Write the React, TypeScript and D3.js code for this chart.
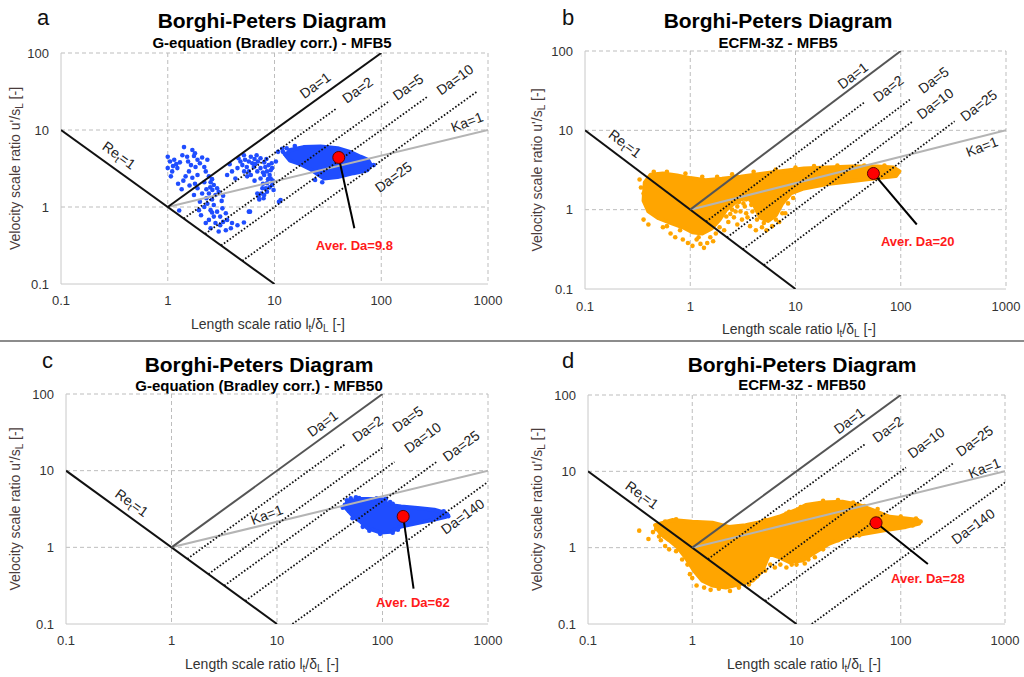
import React from 'react';
import * as d3 from 'd3';

type P = [number, number];

const xTicks = [0.1, 1, 10, 100, 1000];
const yTicks = [0.1, 1, 10, 100];
const xTickText = ['0.1', '1', '10', '100', '1000'];
const yTickText = ['0.1', '1', '10', '100'];

const reLine: P[] = [[0.1, 10], [10, 0.1]];
const da1Line: P[] = [[1, 1], [100, 100]];
const kaLine: P[] = [[1, 1], [1000, 10]];

// panel a - G-equation MFB5
const aDa = [2, 5, 10, 25];
const aDaEnd = [38, 120, 275, 800];
const aCore: P[] = [[12.7, 4.7], [14, 5.5], [18.7, 6.0], [27, 6.1], [39, 5.8], [51, 5.2], [64, 4.5], [75, 4.1], [80, 3.5], [74, 3.0], [55, 2.75], [39, 2.45], [29, 2.35], [26, 2.6], [21.7, 3.1], [17.5, 3.6], [14, 4.0]];
const aDots: P[] = [
  [1.0, 4.5], [1.05, 3.9], [1.15, 4.1], [1.2, 3.6], [1.0, 3.2], [1.1, 2.9], [1.07, 2.5], [1.23, 3.2], [1.42, 6.0], [1.37, 4.7],
  [1.52, 4.5], [1.7, 5.5], [1.76, 4.6], [1.9, 4.1], [1.65, 3.5], [1.82, 3.3], [2.0, 3.7], [2.2, 3.3], [1.58, 2.9], [1.47, 2.5],
  [1.7, 2.4], [1.9, 2.6], [2.35, 4.1], [2.27, 2.9], [2.43, 2.5], [2.52, 2.1], [2.7, 1.93], [2.62, 1.66], [2.9, 1.75], [2.43, 1.5],
  [2.8, 1.43], [3.0, 1.58], [1.76, 1.43], [1.9, 1.75], [2.0, 1.17], [2.2, 1.0], [1.96, 0.91], [2.35, 1.1], [2.52, 0.91], [2.7, 1.06],
  [2.9, 0.87], [3.25, 0.96], [3.5, 0.83], [3.1, 0.75], [2.7, 0.75], [2.43, 0.68], [2.27, 0.62], [2.8, 0.62], [3.1, 0.58], [3.6, 0.68],
  [4.0, 0.62], [4.5, 0.58], [5.17, 0.63], [5.75, 0.87], [3.5, 0.5], [3.9, 0.53], [3.0, 0.48], [2.52, 0.53], [4.6, 4.3], [5.17, 4.7],
  [5.75, 3.9], [5.0, 3.5], [6.4, 3.3], [6.9, 2.9], [7.4, 3.2], [8.0, 2.6], [8.5, 2.9], [9.2, 2.35], [7.4, 2.35], [8.5, 2.03],
  [9.5, 1.93], [9.8, 1.66], [8.5, 1.58], [8.0, 1.43], [7.1, 1.36], [6.9, 1.5], [7.7, 1.75], [4.0, 2.9], [4.3, 2.35], [5.55, 2.5],
  [6.2, 3.7], [10.3, 3.9], [7.4, 4.3], [5.75, 2.9], [9.5, 3.2], [11, 1.17], [5.9, 0.87], [11.4, 1.23], [12, 5.2], [13, 5.8],
  [12.5, 4.9], [8.8, 3.5], [9.2, 3.0], [8.2, 3.3], [7.8, 2.8], [9.0, 2.6], [9.6, 2.2], [9.0, 1.8], [8.3, 1.75], [7.5, 1.5],
  [7.2, 1.25], [7.9, 1.3], [6.5, 4.2], [6.0, 4.5], [5.3, 4.1], [4.8, 3.9], [5.5, 3.3], [6.6, 3.6], [7.0, 3.9], [8.0, 3.8],
  [4.5, 3.2], [5.2, 2.9], [6.0, 2.6], [6.5, 2.2], [3.6, 2.6], [3.8, 3.6], [2.2, 2.1], [2.5, 1.8], [2.3, 1.3], [2.6, 1.25],
  [3.2, 1.2], [3.3, 1.4], [2.1, 1.5], [1.8, 2.0], [1.6, 1.9], [1.35, 1.7], [1.4, 2.2], [1.25, 2.0], [1.28, 0.9], [10.8, 5.2],
  [1.12, 3.4], [1.3, 3.8], [1.55, 3.9], [1.8, 5.0], [2.1, 4.4], [2.6, 2.3], [2.3, 1.7], [2.05, 0.78], [2.6, 0.85], [3.3, 0.64],
  [6.8, 4.7], [8.4, 4.2], [9.4, 3.7], [8.7, 2.3], [7.8, 2.0], [24, 2.25], [28, 2.1], [85, 3.5], [15.5, 6.2], [11.8, 5.7],
];
const aAver: P[] = [[40, 4.4], [56, 0.53], [56, 0.32]];

// panel b - ECFM-3Z MFB5
const bDa = [2, 5, 10, 25];
const bDaEnd = [45, 122, 128, 325];
const bCore: P[] = [
  [0.37, 2.2], [0.42, 2.75], [0.55, 2.85], [0.75, 2.7], [1.0, 2.5], [1.4, 2.35], [2.0, 2.45], [3.0, 2.6], [5, 2.85], [8, 3.1],
  [12, 3.3], [20, 3.4], [35, 3.5], [60, 3.5], [85, 3.4], [97, 3.05], [90, 2.65], [60, 2.5], [35, 2.3], [20, 2.1],
  [12, 1.85], [9, 1.6], [7.5, 1.2], [6.5, 0.85], [5.5, 0.72], [4.6, 0.8], [4.1, 1.1], [3.6, 1.4], [3.0, 1.35], [2.6, 1.2],
  [2.2, 1.0], [1.9, 0.75], [1.6, 0.58], [1.3, 0.5], [1.05, 0.52], [0.85, 0.6], [0.65, 0.68], [0.5, 0.78], [0.4, 0.95], [0.36, 1.3],
];
const bDots: P[] = [
  [0.36, 1.6], [0.36, 0.75], [0.4, 0.65], [0.45, 0.9], [0.55, 0.6], [0.65, 0.5], [0.72, 0.45], [0.8, 0.55], [0.85, 0.42], [0.95, 0.38],
  [1.05, 0.35], [1.15, 0.42], [1.25, 0.37], [1.35, 0.33], [1.45, 0.38], [1.55, 0.45], [1.65, 0.4], [1.75, 0.5], [1.9, 0.6], [2.1, 0.55],
  [2.3, 0.7], [2.6, 0.8], [2.8, 0.65], [3.1, 0.75], [3.4, 0.9], [3.7, 0.62], [4.2, 0.55], [4.8, 0.6], [5.3, 0.55], [6.0, 0.62],
  [7, 0.7], [8, 0.9], [2.5, 1.0], [2.8, 1.1], [3.0, 0.95], [0.45, 3.0], [0.6, 3.0], [0.9, 2.85], [1.3, 2.6], [1.8, 2.6],
  [2.5, 2.8], [4, 3.0], [6.5, 3.2], [10, 3.4], [0.33, 2.4], [0.34, 1.9], [1.2, 0.45], [0.6, 0.62], [2.4, 0.88], [3.3, 1.1],
  [2.7, 0.95], [3.2, 1.2], [3.5, 0.8], [3.9, 0.95], [4.3, 0.75], [2.9, 1.25], [3.4, 1.35], [4.0, 1.3], [5.0, 0.68], [6.5, 0.75],
  [7.5, 0.9], [8.5, 1.2], [9.5, 1.4], [15, 3.55], [25, 3.6], [45, 3.6], [70, 3.6], [3.8, 1.15], [4.5, 1.0], [2.2, 0.82],
];
const bAver: P[] = [[55, 2.86], [142, 0.65], [145, 0.4]];

// panel c - G-equation MFB50
const cDa = [2, 5, 10, 25, 140];
const cDaEnd = [45, 100, 130, 325, 1000];
const cCore: P[] = [
  [46, 3.8], [58, 4.27], [72, 4.27], [104, 4.2], [111, 3.6], [150, 3.4], [215, 3.26], [310, 3.1], [400, 2.8], [400, 2.5],
  [310, 2.3], [215, 2.07], [150, 1.87], [120, 1.6], [96, 1.56], [72, 1.78], [62, 2.17], [53, 2.53], [48, 2.95], [45, 3.25],
];
const cDots: P[] = [
  [44, 3.6], [46, 4.1], [50, 4.35], [56, 4.5], [42, 3.3], [48, 3.0], [108, 4.3], [118, 3.9], [125, 3.7], [380, 2.95],
  [410, 2.7], [420, 2.55], [95, 1.5], [125, 1.55], [140, 1.7], [65, 1.85], [75, 1.65], [52, 2.4], [60, 4.4], [88, 4.35],
];
const cAver: P[] = [[157, 2.53], [197, 0.29], [194, 0.19]];

// panel d - ECFM-3Z MFB50
const dDa = [2, 10, 25, 140];
const dDaEnd = [45, 112, 316, 1000];
const dCore: P[] = [
  [0.44, 1.97], [0.64, 2.3], [1.0, 2.18], [1.56, 2.12], [2.25, 1.87], [3.25, 1.97], [4.7, 2.18], [6.8, 2.54], [9.85, 3.1], [12.3, 3.62],
  [17.8, 3.9], [27.6, 4.0], [40, 3.62], [54, 3.1], [78, 2.54], [112, 2.42], [146, 2.3], [150, 2.07], [112, 1.87], [72, 1.7],
  [46, 1.53], [30, 1.38], [20.6, 1.13], [14.3, 0.83], [11.4, 0.68], [8.5, 0.65], [6.8, 0.75], [5.5, 0.83], [4.7, 0.5], [3.8, 0.37],
  [2.8, 0.33], [2.1, 0.3], [1.56, 0.32], [1.25, 0.37], [1.04, 0.5], [0.86, 0.75], [0.72, 1.02], [0.6, 1.25], [0.5, 1.5],
];
const dDots: P[] = [
  [0.31, 1.67], [0.38, 1.3], [0.42, 1.6], [0.5, 1.25], [0.55, 1.05], [0.6, 0.95], [0.9, 0.6], [0.95, 0.45], [1.0, 0.4], [1.1, 0.32],
  [1.3, 0.3], [1.5, 0.28], [1.8, 0.29], [2.3, 0.27], [2.8, 0.3], [3.5, 0.33], [4.2, 0.42], [5.0, 0.5], [5.6, 0.6], [6.2, 0.55],
  [9, 0.6], [12, 0.62], [15, 0.75], [18, 4.1], [25, 4.2], [35, 3.9], [45, 3.5], [8, 2.8], [11, 3.4], [140, 2.4], [155, 2.2],
  [0.45, 1.75], [0.48, 1.4], [0.7, 0.9], [0.8, 0.7], [7, 0.6], [8, 0.55], [10, 0.6], [13, 0.7], [18, 0.95], [25, 1.25],
  [40, 1.45], [0.55, 2.2], [0.7, 2.35], [5, 2.3], [8.5, 2.95], [60, 3.2], [100, 2.55], [130, 1.95],
];
const dAver: P[] = [[58, 2.12], [182, 0.61], [182, 0.4]];

const BLUE = '#1f4dff';
const ORANGE = '#ffa500';

const panels = [
  {
    key: 'a', left: 61, right: 488, top: 53, bottom: 284, titleX: 272, titleY: 28, subY: 48, letterX: 37, letterY: 25,
    sub: 'G-equation (Bradley corr.) - MFB5', color: BLUE, core: aCore, dots: aDots, da: aDa, daEnd: aDaEnd, da1: '#111',
    aver: aAver, averText: 'Aver. Da=9.8', xtY: 300, xtX: 268, ytX: 15,
    labels: [['Da=1', 'da', 24, 38], ['Da=2', 'da', 60, 33], ['Da=5', 'da', 178, 36], ['Da=10', 'da', 490, 45], ['Ka=1', 'ka', 635, 12.7], ['Da=25', 'da', 130, 2.45], ['Re', 're', 0.35, 4.7]],
  },
  {
    key: 'b', left: 585, right: 1006, top: 51, bottom: 289, titleX: 778, titleY: 28, subY: 48, letterX: 562, letterY: 25,
    sub: 'ECFM-3Z - MFB5', color: ORANGE, core: bCore, dots: bDots, da: bDa, daEnd: bDaEnd, da1: '#555',
    aver: bAver, averText: 'Aver. Da=20', xtY: 306, xtX: 799, ytX: 537,
    labels: [['Re', 're', 0.24, 6.8], ['Da=1', 'da', 35, 49], ['Da=2', 'da', 76, 33.5], ['Da=5', 'da', 205, 43], ['Da=10', 'da', 212, 21.7], ['Da=25', 'da', 550, 20.6], ['Ka=1', 'ka', 590, 6.2]],
  },
  {
    key: 'c', left: 66, right: 488, top: 394, bottom: 624, titleX: 259, titleY: 372, subY: 391, letterX: 42, letterY: 368,
    sub: 'G-equation (Bradley corr.) - MFB50', color: BLUE, core: cCore, dots: cDots, da: cDa, daEnd: cDaEnd, da1: '#555',
    aver: cAver, averText: 'Aver. Da=62', xtY: 640, xtX: 262, ytX: 15,
    labels: [['Re', 're', 0.42, 3.8], ['Da=1', 'da', 27, 41], ['Da=2', 'da', 72, 35], ['Da=5', 'da', 173, 47], ['Da=10', 'da', 240, 27], ['Da=25', 'da', 557, 21], ['Ka=1', 'ka', 8.0, 2.66], ['Da=140', 'da', 575, 2.53]],
  },
  {
    key: 'd', left: 588, right: 1005, top: 395, bottom: 624, titleX: 802, titleY: 372, subY: 390, letterX: 562, letterY: 368,
    sub: 'ECFM-3Z - MFB50', color: ORANGE, core: dCore, dots: dDots, da: dDa, daEnd: dDaEnd, da1: '#555',
    aver: dAver, averText: 'Aver. Da=28', xtY: 640, xtX: 804, ytX: 537,
    labels: [['Re', 're', 0.33, 4.9], ['Da=1', 'da', 32, 46], ['Da=2', 'da', 75, 35.5], ['Da=10', 'da', 175, 23.7], ['Da=25', 'da', 510, 25], ['Ka=1', 'ka', 635, 11], ['Da=140', 'da', 494, 1.9]],
  },
];

const FONT = 'Liberation Sans, Arial, sans-serif';

function daSegment(da: number, end: number): P[] {
  // dotted Da lines start on the Re_t=1 line (or the bottom edge)
  const l0 = Math.max(Math.sqrt(da), da * 0.1);
  return [[l0, l0 / da], [end, end / da]];
}

function Panel({ cfg }: { cfg: any }) {
  const x = d3.scaleLog().domain([0.1, 1000]).range([cfg.left, cfg.right]);
  const y = d3.scaleLog().domain([0.1, 100]).range([cfg.bottom, cfg.top]);
  const line = d3.line<P>().x(d => x(d[0])).y(d => y(d[1]));
  const blob = d3.line<P>().x(d => x(d[0])).y(d => y(d[1])).curve(d3.curveLinearClosed);
  const daAngle = (Math.atan2(y(10) - y(1), x(10) - x(1)) * 180) / Math.PI;
  const clipId = `clip-${cfg.key}`;
  const midY = (cfg.top + cfg.bottom) / 2;
  const [dot, tip, lab] = cfg.aver;

  return (
    <g>
      <defs>
        <clipPath id={clipId}>
          <rect x={cfg.left} y={cfg.top} width={cfg.right - cfg.left} height={cfg.bottom - cfg.top} />
        </clipPath>
      </defs>

      <text x={cfg.letterX} y={cfg.letterY} fontSize={22} fontFamily={FONT} fill="#111">{cfg.key}</text>
      <text x={cfg.titleX} y={cfg.titleY} textAnchor="middle" fontSize={21} fontWeight="bold" fontFamily={FONT} fill="#000">Borghi-Peters Diagram</text>
      <text x={cfg.titleX} y={cfg.subY} textAnchor="middle" fontSize={15} fontWeight="bold" fontFamily={FONT} fill="#000">{cfg.sub}</text>

      {/* grid */}
      {xTicks.slice(1).map(t => (
        <line key={'gx' + t} x1={x(t)} x2={x(t)} y1={cfg.top} y2={cfg.bottom} stroke="#bdbdbd" strokeDasharray="4 3" />
      ))}
      {yTicks.slice(1).map(t => (
        <line key={'gy' + t} x1={cfg.left} x2={cfg.right} y1={y(t)} y2={y(t)} stroke="#bdbdbd" strokeDasharray="4 3" />
      ))}
      <line x1={cfg.left} x2={cfg.left} y1={cfg.top} y2={cfg.bottom} stroke="#c8c8c8" />
      <line x1={cfg.left} x2={cfg.right} y1={cfg.bottom} y2={cfg.bottom} stroke="#c8c8c8" />

      {xTicks.map((t, i) => (
        <text key={'tx' + t} x={x(t)} y={cfg.xtY} dy="0.35em" textAnchor="middle" fontSize={13} fontFamily={FONT} fill="#333">{xTickText[i]}</text>
      ))}
      {yTicks.map((t, i) => (
        <text key={'ty' + t} x={cfg.left - 12} y={y(t)} dy="0.35em" textAnchor="end" fontSize={13} fontFamily={FONT} fill="#333">{yTickText[i]}</text>
      ))}

      <text x={cfg.xtX} y={cfg.bottom + 45} textAnchor="middle" fontSize={14} fontFamily={FONT} fill="#333">
        Length scale ratio l<tspan fontSize={10} dy={3}>t</tspan><tspan dy={-3}>/δ</tspan><tspan fontSize={10} dy={3}>L</tspan><tspan dy={-3}> [-]</tspan>
      </text>
      <text transform={`translate(${cfg.ytX + 5},${midY}) rotate(-90)`} textAnchor="middle" fontSize={14} fontFamily={FONT} fill="#4a3c3c">
        Velocity scale ratio u'/s<tspan fontSize={10} dy={3}>L</tspan><tspan dy={-3}> [-]</tspan>
      </text>

      <g clipPath={`url(#${clipId})`}>
        {/* scatter cloud */}
        <path d={blob(cfg.core) || ''} fill={cfg.color} stroke={cfg.color} strokeWidth={4} strokeLinejoin="round" />
        {cfg.dots.map((d: P, i: number) => (
          <circle key={'p' + i} cx={x(d[0])} cy={y(d[1])} r={2.3} fill={cfg.color} />
        ))}

        {/* regime lines */}
        <path d={line(kaLine) || ''} fill="none" stroke="#b4b4b4" strokeWidth={2} />
        <path d={line(reLine) || ''} fill="none" stroke="#111" strokeWidth={2} />
        <path d={line(da1Line) || ''} fill="none" stroke={cfg.da1} strokeWidth={2} />
        {cfg.da.map((v: number, i: number) => (
          <path key={'da' + v} d={line(daSegment(v, cfg.daEnd[i])) || ''} fill="none" stroke="#111" strokeWidth={1.8} strokeDasharray="1.6 1.9" />
        ))}
      </g>

      {cfg.labels.map((lb: any[], i: number) => {
        const rot = lb[1] === 're' ? -daAngle : lb[1] === 'ka' ? -21 : daAngle;
        return (
          <text key={'lb' + i} transform={`translate(${x(lb[2])},${y(lb[3])}) rotate(${rot})`} textAnchor="middle" dy="0.35em" fontSize={14} fontFamily={FONT} fill="#222">
            {lb[1] === 're' ? (<>Re<tspan fontSize={10} dy={3}>t</tspan><tspan dy={-3}>=1</tspan></>) : lb[0]}
          </text>
        );
      })}

      {/* average Damkohler marker */}
      <line x1={x(dot[0])} y1={y(dot[1])} x2={x(tip[0])} y2={y(tip[1])} stroke="#000" strokeWidth={2} />
      <circle cx={x(dot[0])} cy={y(dot[1])} r={6} fill="#ff0000" stroke="#5a0000" strokeWidth={1} />
      <text x={x(lab[0])} y={y(lab[1])} dy="0.35em" textAnchor="middle" fontSize={13} fontWeight="bold" fontFamily={FONT} fill="#ff1a1a">{cfg.averText}</text>
    </g>
  );
}

export default function App() {
  return (
    <svg width={1024} height={677} style={{ position: 'absolute', left: 0, top: 0, background: '#fff' }}>
      <rect width={1024} height={677} fill="#fff" />
      {panels.map(p => <Panel key={p.key} cfg={p} />)}
      <line x1={0} x2={1024} y1={341} y2={341} stroke="#8c8c8c" strokeWidth={2} />
    </svg>
  );
}
